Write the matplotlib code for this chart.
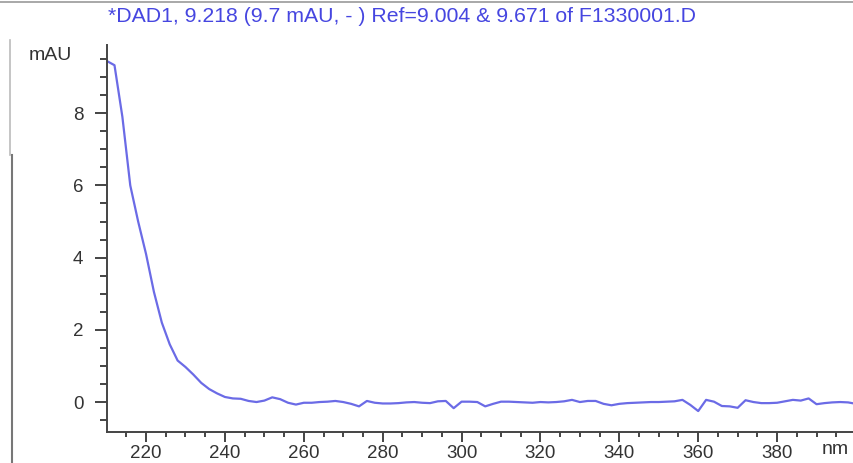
import matplotlib
matplotlib.use("Agg")
import matplotlib.pyplot as plt
from matplotlib.lines import Line2D
from matplotlib.ticker import MultipleLocator

# wavelength (nm) and absorbance (mAU)
wavelength = [210, 212, 214, 216, 218, 220, 222, 224, 226, 228,
              230, 232, 234, 236, 238, 240, 242, 244, 246, 248,
              250, 252, 254, 256, 258, 260, 262, 264, 266, 268,
              270, 272, 274, 276, 278, 280, 282, 284, 286, 288,
              290, 292, 294, 296, 298, 300, 302, 304, 306, 308,
              310, 312, 314, 316, 318, 320, 322, 324, 326, 328,
              330, 332, 334, 336, 338, 340, 342, 344, 346, 348,
              350, 352, 354, 356, 358, 360, 362, 364, 366, 368,
              370, 372, 374, 376, 378, 380, 382, 384, 386, 388,
              390, 392, 394, 396, 398, 400]
mau = [9.45, 9.33, 7.9, 6.0, 5.0, 4.1, 3.05, 2.2, 1.6, 1.15,
       0.97, 0.76, 0.53, 0.36, 0.24, 0.14, 0.10, 0.09, 0.03, 0.0,
       0.04, 0.13, 0.08, -0.02, -0.07, -0.02, -0.02, 0.0, 0.01, 0.03,
       0.0, -0.05, -0.12, 0.03, -0.02, -0.04, -0.04, -0.03, -0.01, 0.0,
       -0.02, -0.03, 0.02, 0.03, -0.17, 0.01, 0.01, 0.0, -0.12, -0.05,
       0.01, 0.01, 0.0, -0.01, -0.02, 0.0, -0.01, 0.0, 0.02, 0.06,
       0.0, 0.03, 0.03, -0.05, -0.09, -0.05, -0.03, -0.02, -0.01, 0.0,
       0.0, 0.01, 0.02, 0.06, -0.08, -0.25, 0.06, 0.01, -0.11, -0.12,
       -0.16, 0.05, 0.0, -0.03, -0.03, -0.02, 0.02, 0.06, 0.04, 0.10,
       -0.06, -0.03, -0.01, 0.0, -0.01, -0.05]

title = "*DAD1, 9.218 (9.7 mAU, - ) Ref=9.004 & 9.671 of F1330001.D"

plt.rcParams['font.family'] = ['Liberation Sans', 'DejaVu Sans']

fig = plt.figure(figsize=(8.54, 4.63), dpi=100)
ax = fig.add_axes([107 / 854, 31 / 463, 747 / 854, 387 / 463])

ax.plot(wavelength, mau, color='#6b6be6', lw=1.6)

ax.set_xlim(210.1, 399.5)
ax.set_ylim(-0.83, 9.89)

ax.xaxis.set_major_locator(MultipleLocator(20))
ax.xaxis.set_minor_locator(MultipleLocator(5))
ax.yaxis.set_major_locator(MultipleLocator(2))
ax.yaxis.set_minor_locator(MultipleLocator(0.5))

for s in ['top', 'right']:
    ax.spines[s].set_visible(False)
for s in ['left', 'bottom']:
    ax.spines[s].set_color('#444444')
    ax.spines[s].set_linewidth(1.4)

ax.tick_params(axis='y', which='major', direction='out', length=9, width=1.4,
               color='#444444', labelsize=13.5, labelcolor='#333333', pad=8)
ax.tick_params(axis='y', which='minor', direction='out', length=5, width=1.4,
               color='#444444')
ax.tick_params(axis='x', which='major', direction='out', length=7, width=1.4,
               color='#444444', labelsize=13.5, labelcolor='#333333', pad=2)
ax.tick_params(axis='x', which='minor', direction='out', length=3.5, width=1.4,
               color='#444444')

fig.text(50 / 854, 1 - 55 / 463, "mAU", ha='center', va='center',
         fontsize=14, color='#333333')
fig.text(835 / 854, 1 - 450 / 463, "nm", ha='center', va='center',
         fontsize=14, color='#333333')
fig.text(108 / 854, 1 - 16 / 463, title, ha='left', va='center',
         fontsize=15.3, color='#4646e0')

# scan border lines
fig.add_artist(Line2D([0, 1], [1 - 1.5 / 463, 1 - 1.5 / 463], color='#999999', lw=1.2))
fig.add_artist(Line2D([10.5 / 854, 10.5 / 854], [1 - 155 / 463, 1 - 40 / 463], color='#bbbbbb', lw=1.2))
fig.add_artist(Line2D([12 / 854, 12 / 854], [0, 1 - 155 / 463], color='#777777', lw=1.5))

fig.savefig("out.png", dpi=100)
